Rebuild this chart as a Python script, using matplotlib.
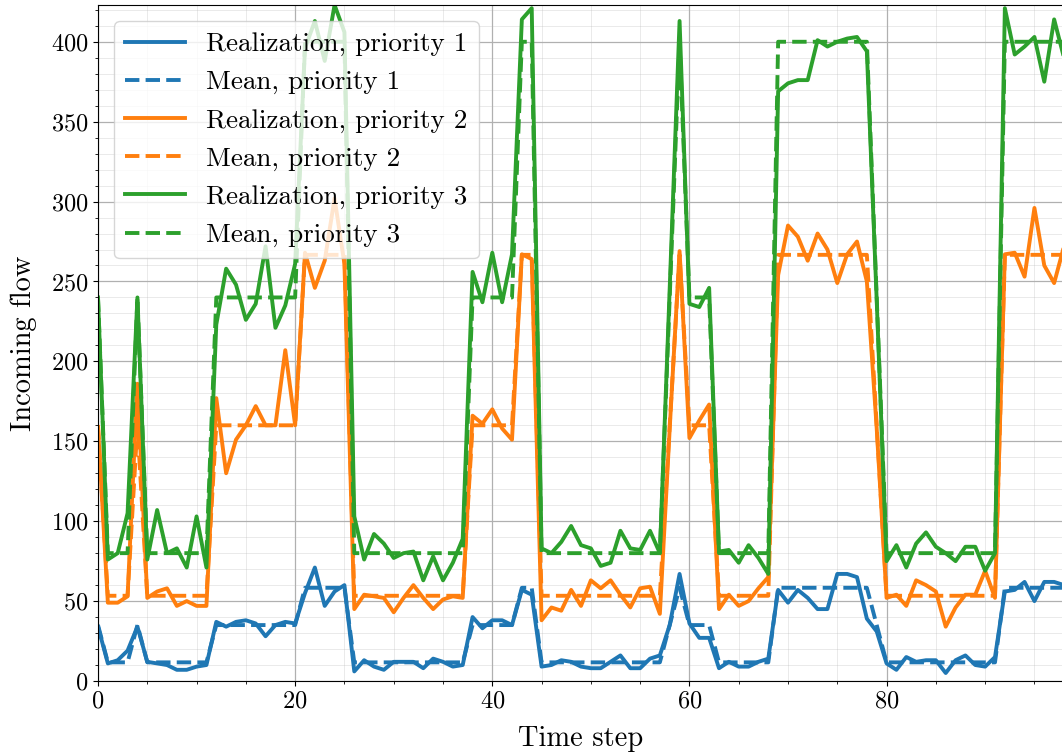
import matplotlib
matplotlib.use("Agg")
import matplotlib.pyplot as plt
import numpy as np

plt.rcParams["font.family"] = "serif"
plt.rcParams["font.serif"] = ["cmr10"]
plt.rcParams["mathtext.fontset"] = "cm"
plt.rcParams["axes.formatter.use_mathtext"] = True

# incoming flow per time step, one realization per priority class
flow_p1 = [34, 11, 13, 19, 34, 12, 11, 10, 7, 7, 9, 10, 37, 34, 37, 38, 36, 28, 35, 37,
           36, 55, 71, 47, 56, 60, 6, 13, 9, 7, 12, 12, 12, 8, 14, 12, 9, 10, 40, 33,
           38, 38, 35, 57, 54, 9, 10, 13, 12, 9, 8, 8, 12, 16, 8, 8, 14, 16, 35, 67,
           36, 27, 27, 8, 12, 9, 9, 12, 14, 57, 49, 57, 52, 45, 45, 67, 67, 65, 39, 31,
           11, 7, 15, 12, 13, 13, 5, 13, 16, 10, 9, 15, 56, 57, 62, 50, 62, 62, 60]
flow_p2 = [159, 49, 49, 53, 186, 52, 56, 58, 47, 50, 47, 47, 177, 130, 151, 160, 172, 160, 160, 207,
           160, 268, 246, 263, 302, 261, 45, 54, 53, 52, 43, 52, 60, 52, 45, 51, 53, 52, 166, 161,
           170, 158, 151, 267, 264, 38, 46, 44, 57, 47, 63, 58, 63, 54, 46, 58, 59, 42, 158, 269,
           152, 163, 173, 45, 54, 47, 50, 58, 65, 254, 285, 278, 263, 280, 270, 249, 267, 275, 250, 158,
           52, 54, 47, 63, 60, 56, 34, 46, 54, 54, 69, 52, 267, 268, 253, 296, 260, 249, 272]
flow_p3 = [240, 76, 80, 105, 240, 76, 107, 80, 83, 71, 103, 71, 223, 258, 248, 226, 236, 272, 221, 235,
           261, 396, 413, 388, 423, 406, 103, 76, 92, 86, 77, 80, 81, 63, 78, 63, 74, 89, 256, 237,
           268, 237, 267, 414, 421, 83, 80, 87, 97, 85, 83, 72, 74, 94, 83, 82, 94, 80, 246, 413,
           236, 234, 246, 81, 82, 74, 85, 77, 67, 369, 374, 376, 376, 401, 397, 400, 402, 403, 394, 238,
           75, 85, 71, 86, 93, 84, 80, 75, 84, 84, 69, 80, 421, 392, 397, 403, 375, 414, 390]

# demand regime at each step: 0 = low, 1 = medium, 2 = high
regime = [1, 0, 0, 0, 1, 0, 0, 0, 0, 0, 0, 0, 1, 1, 1, 1, 1, 1, 1, 1,
          1, 2, 2, 2, 2, 2, 0, 0, 0, 0, 0, 0, 0, 0, 0, 0, 0, 0, 1, 1,
          1, 1, 1, 2, 2, 0, 0, 0, 0, 0, 0, 0, 0, 0, 0, 0, 0, 0, 1, 2,
          1, 1, 1, 0, 0, 0, 0, 0, 0, 2, 2, 2, 2, 2, 2, 2, 2, 2, 2, 1,
          0, 0, 0, 0, 0, 0, 0, 0, 0, 0, 0, 0, 2, 2, 2, 2, 2, 2, 2]

# mean flow of each priority in the low / medium / high regime
mean_levels_p1 = [35 / 3, 35, 175 / 3]
mean_levels_p2 = [160 / 3, 160, 800 / 3]
mean_levels_p3 = [80, 240, 400]

labels = ["priority 1", "priority 2", "priority 3"]
colors = ["C0", "C1", "C2"]

steps = np.arange(len(regime))
realizations = [flow_p1, flow_p2, flow_p3]
means = [np.array(lv)[regime] for lv in (mean_levels_p1, mean_levels_p2, mean_levels_p3)]

fig = plt.figure(figsize=(10.62, 7.55), dpi=100)
ax = fig.add_axes([98 / 1062, 74 / 755, 966 / 1062, 676 / 755])

for real, mean, lab, col in zip(realizations, means, labels, colors):
    ax.plot(steps, real, color=col, lw=2.8, label="Realization, " + lab)
    ax.plot(steps, mean, color=col, lw=2.8, ls="--", label="Mean, " + lab)

ax.set_xlim(0, steps[-1])
ax.set_ylim(0, max(max(r) for r in realizations))
ax.minorticks_on()
ax.grid(which="major", color="#b0b0b0", lw=0.9)
ax.grid(which="minor", color="#b0b0b0", lw=0.6, alpha=0.3)
ax.tick_params(labelsize=17.5)

ax.set_xlabel("Time step", fontsize=20.5, labelpad=9)
ax.set_ylabel("Incoming flow", fontsize=20.5, labelpad=10)
ax.legend(loc="upper left", fontsize=19.5, handlelength=2.2, labelspacing=0.52,
          borderaxespad=0.6)

fig.savefig("out.png", dpi=100)
